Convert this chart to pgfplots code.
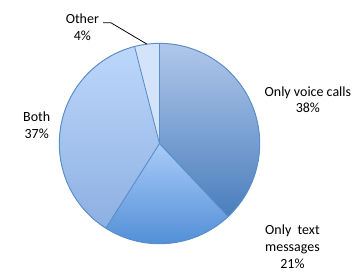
\documentclass[border=0pt]{standalone}
\usepackage{pgfplots}
\usepackage{pgfplotstable}
\pgfplotsset{compat=1.18}
\usepackage{fontspec}
\setmainfont{Carlito}
\definecolor{edge}{HTML}{5B8FCB}
\definecolor{vTop}{HTML}{B0C7EA}
\definecolor{vBot}{HTML}{4A7EBD}
\definecolor{tTop}{HTML}{A9CBF8}
\definecolor{tBot}{HTML}{4A8AD4}
\definecolor{bTop}{HTML}{BDD7FB}
\definecolor{bBot}{HTML}{8DB0E2}
\definecolor{oCol}{HTML}{D3E4FA}

\pgfplotstableread{
label value
voice 38
text 21
both 37
other 4
}\piedata

\begin{document}
\pgfplotstablegetelem{0}{value}\of\piedata \let\vA\pgfplotsretval
\pgfplotstablegetelem{1}{value}\of\piedata \let\vB\pgfplotsretval
\pgfplotstablegetelem{2}{value}\of\piedata \let\vC\pgfplotsretval
\pgfplotstablegetelem{3}{value}\of\piedata \let\vD\pgfplotsretval
\pgfmathsetmacro\aA{90}
\pgfmathsetmacro\aB{\aA-3.6*\vA}
\pgfmathsetmacro\aC{\aB-3.6*\vB}
\pgfmathsetmacro\aD{\aC-3.6*\vC}
\pgfmathsetmacro\aE{\aD-3.6*\vD}
\pgfmathsetmacro\mD{(\aD+\aE)/2}
\begin{tikzpicture}
\begin{axis}[
  x=104pt, y=104pt,
  scale only axis,
  xmin=-1.4615, xmax=1.9712,
  ymin=-1.2692, ymax=1.4327,
  hide axis,
  clip=false,
]
\coordinate (bl) at (axis cs:-1.4615,-1.2692);
\coordinate (tr) at (axis cs:1.9712,1.4327);
% slices
\fill[top color=vTop, bottom color=vBot] (axis cs:0,0) -- (axis cs:{cos(\aA)},{sin(\aA)}) arc[start angle=\aA, end angle=\aB, radius=104pt] -- cycle;
\fill[top color=tTop, bottom color=tBot] (axis cs:0,0) -- (axis cs:{cos(\aB)},{sin(\aB)}) arc[start angle=\aB, end angle=\aC, radius=104pt] -- cycle;
\fill[top color=bTop, bottom color=bBot] (axis cs:0,0) -- (axis cs:{cos(\aC)},{sin(\aC)}) arc[start angle=\aC, end angle=\aD, radius=104pt] -- cycle;
\fill[oCol] (axis cs:0,0) -- (axis cs:{cos(\aD)},{sin(\aD)}) arc[start angle=\aD, end angle=\aE, radius=104pt] -- cycle;
% edges
\draw[edge, line width=0.9pt] (axis cs:0,0) -- (axis cs:{cos(\aA)},{sin(\aA)});
\draw[edge, line width=0.9pt] (axis cs:0,0) -- (axis cs:{cos(\aB)},{sin(\aB)});
\draw[edge, line width=0.9pt] (axis cs:0,0) -- (axis cs:{cos(\aC)},{sin(\aC)});
\draw[edge, line width=0.9pt] (axis cs:0,0) -- (axis cs:{cos(\aD)},{sin(\aD)});
\draw[edge, line width=1pt] (axis cs:0,0) circle[radius=104pt];
% leader line for Other
\draw[black, line width=0.8pt] (axis cs:-0.563,1.206) -- (axis cs:-0.486,1.206) -- (axis cs:{cos(\mD)},{sin(\mD)});
% labels
\node[font=\fontsize{14.5}{17}\selectfont, align=center, inner sep=0pt, anchor=base] at (axis cs:-0.77,1.032) {Other\\4\%};
\node[font=\fontsize{14.5}{16.5}\selectfont, align=center, inner sep=0pt, anchor=base] at (axis cs:1.481,0.311) {Only voice calls\\38\%};
\node[font=\fontsize{14.5}{17.5}\selectfont, align=center, inner sep=0pt, anchor=base] at (axis cs:1.327,-1.245) {Only\ \ text\\messages\\21\%};
\node[font=\fontsize{14.5}{18}\selectfont, align=center, inner sep=0pt, anchor=base] at (axis cs:-1.226,0.05) {Both\\37\%};
\end{axis}
\pgfresetboundingbox
\useasboundingbox (bl) rectangle (tr);
\end{tikzpicture}
\end{document}
